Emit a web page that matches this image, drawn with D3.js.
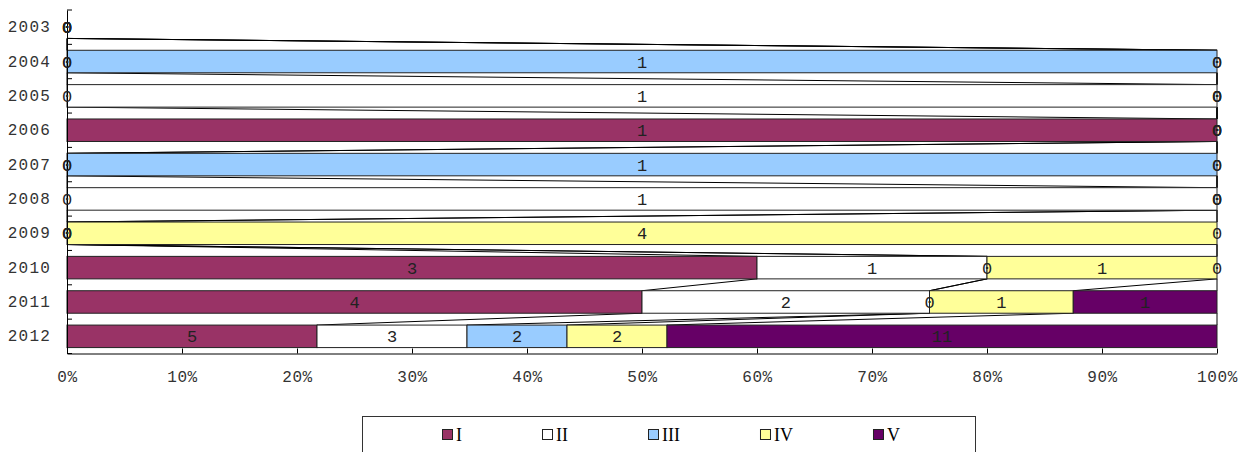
<!DOCTYPE html>
<html>
<head>
<meta charset="utf-8">
<script src="https://cdn.jsdelivr.net/npm/d3@7"></script>
<style>
  body { margin: 0; background: #fff; }
  svg { display: block; }
</style>
</head>
<body>
<svg id="chart" width="1254" height="452"></svg>
<script>
// Categories (top to bottom) and series
const years = ["2003", "2004", "2005", "2006", "2007", "2008", "2009", "2010", "2011", "2012"];
const seriesNames = ["I", "II", "III", "IV", "V"];
const seriesColors = ["#993366", "#FFFFFF", "#99CCFF", "#FFFF99", "#660066"];

// Counts per year for each series
const valuesI   = [0, 0, 0, 1, 0, 0, 0, 3, 4, 5];
const valuesII  = [0, 0, 1, 0, 0, 1, 0, 1, 2, 3];
const valuesIII = [0, 1, 0, 0, 1, 0, 0, 0, 0, 2];
const valuesIV  = [0, 0, 0, 0, 0, 0, 4, 1, 1, 2];
const valuesV   = [0, 0, 0, 0, 0, 0, 0, 0, 1, 11];

const xTickValues = [0, 0.1, 0.2, 0.3, 0.4, 0.5, 0.6, 0.7, 0.8, 0.9, 1];

const seriesValues = [valuesI, valuesII, valuesIII, valuesIV, valuesV];

// 100% stacking: start/end share of every segment
const rows = years.map((year, i) => {
  const vals = seriesValues.map(s => s[i]);
  const total = d3.sum(vals);
  let acc = 0;
  const segs = vals.map((v, k) => {
    const start = total ? acc / total : 0;
    acc += v;
    const end = total ? acc / total : 0;
    return { year, series: k, value: v, start, end };
  });
  return { year, total, segs };
});

const svg = d3.select("#chart");
const fontMono = "'Liberation Mono', 'DejaVu Sans Mono', monospace";

const x = d3.scaleLinear().domain([0, 1]).range([67, 1217]);
const y = d3.scaleBand().domain(years).range([10, 353.5])
  .paddingInner(0.345).paddingOuter(0.1725);
const bw = y.bandwidth();

// Series lines joining segment ends of neighbouring bars
const lineG = svg.append("g").attr("class", "series-lines");
for (let i = 0; i < rows.length - 1; i++) {
  for (let k = 0; k < seriesNames.length; k++) {
    lineG.append("line")
      .attr("x1", x(rows[i].segs[k].end))
      .attr("y1", y(rows[i].year) + bw)
      .attr("x2", x(rows[i + 1].segs[k].end))
      .attr("y2", y(rows[i + 1].year))
      .attr("stroke", "#000")
      .attr("stroke-width", 1);
  }
}

// Bars
const barG = svg.append("g").attr("class", "bars");
rows.forEach(r => {
  if (!r.total) return;
  barG.selectAll(null)
    .data(r.segs.filter(s => s.value > 0))
    .join("rect")
    .attr("x", d => x(d.start))
    .attr("y", y(r.year))
    .attr("width", d => x(d.end) - x(d.start))
    .attr("height", bw)
    .attr("fill", d => seriesColors[d.series])
    .attr("stroke", "#222")
    .attr("stroke-width", 1);
});

// X axis (ticks point inward)
const xAxis = svg.append("g")
  .attr("transform", `translate(0,${y.range()[1]})`)
  .call(d3.axisBottom(x).tickValues(xTickValues).tickFormat(d3.format(".0%"))
    .tickSize(-5).tickSizeOuter(0).tickPadding(17));
xAxis.select(".domain").attr("stroke", "#000");
xAxis.selectAll(".tick line").attr("stroke", "#000");
xAxis.selectAll("text").attr("font-family", fontMono).attr("font-size", 16)
  .attr("fill", "#333").style("letter-spacing", "0.6px");

// Y axis: labels centred on bands, ticks on band boundaries
const yAxis = svg.append("g")
  .attr("transform", `translate(${x.range()[0]},0)`)
  .call(d3.axisLeft(y).tickSize(0).tickPadding(16));
yAxis.select(".domain").attr("stroke", "#000");
yAxis.selectAll("text").attr("font-family", fontMono).attr("font-size", 16)
  .attr("fill", "#333").style("letter-spacing", "1.2px");
const step = y.step();
const y0 = y.range()[0];
yAxis.selectAll(null)
  .data(d3.range(years.length + 1))
  .join("line")
  .attr("x1", 0).attr("x2", 5)
  .attr("y1", i => y0 + i * step).attr("y2", i => y0 + i * step)
  .attr("stroke", "#000");

// Data labels
const labelG = svg.append("g").attr("class", "labels");
rows.forEach(r => {
  labelG.selectAll(null)
    .data(r.segs)
    .join("text")
    .attr("x", d => x((d.start + d.end) / 2))
    .attr("y", y(r.year) + bw / 2)
    .attr("dy", "0.36em")
    .attr("text-anchor", "middle")
    .attr("font-family", fontMono)
    .attr("font-size", 17)
    .attr("fill", "#222")
    .text(d => d.value);
});

// Legend
const legend = svg.append("g").attr("class", "legend");
legend.append("rect")
  .attr("x", 362.5).attr("y", 416.5)
  .attr("width", 613).attr("height", 60)
  .attr("fill", "#fff").attr("stroke", "#333");
let lx = 442;
seriesNames.forEach((name, k) => {
  legend.append("rect")
    .attr("x", lx + 0.5).attr("y", 429.5)
    .attr("width", 10).attr("height", 10)
    .attr("fill", seriesColors[k]).attr("stroke", "#222");
  const t = legend.append("text")
    .attr("x", lx + 14).attr("y", 441)
    .attr("font-family", "'Liberation Serif', 'DejaVu Serif', serif")
    .attr("font-size", 18)
    .attr("fill", "#000")
    .text(name);
  lx += 14 + t.node().getComputedTextLength() + 80;
});
</script>
</body>
</html>
